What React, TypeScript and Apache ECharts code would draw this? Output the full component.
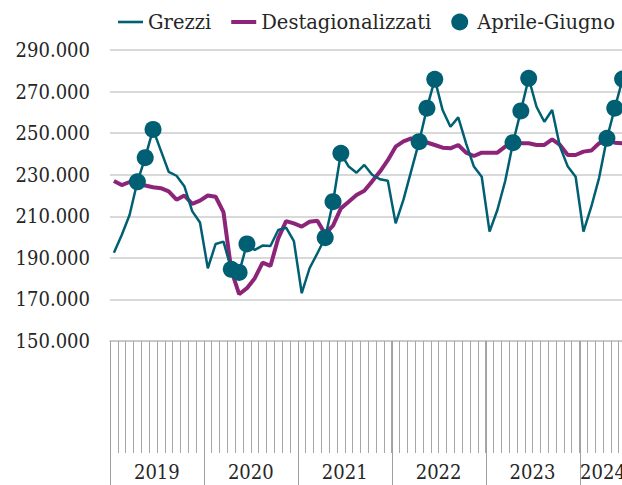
import React, { useEffect, useRef } from 'react';
import * as echarts from 'echarts';

const YEARS = ['2019', '2020', '2021', '2022', '2023', '2024'];
const MONTHS = ['gen', 'feb', 'mar', 'apr', 'mag', 'giu', 'lug', 'ago', 'set', 'ott', 'nov', 'dic'];
const SPRING_MONTHS = ['apr', 'mag', 'giu'];
const LAST_YEAR_MONTHS = 6;

// values in thousands
const grezzi = [
  192.5, 201, 210.6, 226.6, 238.2, 251.8, 241.6, 231.4, 229.5, 224.5, 212.5, 207,
  185, 196.7, 197.8, 184.5, 183, 196.7, 193.8, 195.9, 195.7, 203.4, 204.5, 198,
  173, 185, 192.2, 199.7, 217, 240.3, 233.9, 231, 234.7, 230, 227.8, 227.1,
  206.6, 218, 232, 245.9, 262, 275.9, 261.1, 253.1, 257.6, 245.1, 233.9, 229,
  202.6, 213, 227, 245.4, 260.7, 276.4, 262.7, 255.5, 261.1, 243.5, 233.9, 229,
  202.6, 214.6, 228.5, 247.5, 262, 276,
];

const destagionalizzati = [
  227, 225, 226.5, 225.5, 224.8, 224, 223.5, 222, 218, 220, 216, 217.5,
  220, 219.4, 212, 184, 172.5, 175.4, 180.2, 187.7, 186.1, 199.4, 207.7, 206.6,
  205, 207.4, 207.9, 201.5, 205.5, 213.8, 217, 220.2, 222.3, 226.8, 231.5, 237,
  243.5, 246, 247.5, 246.7, 245.5, 244.3, 243, 242.7, 244.3, 240.6, 239, 240.6,
  240.6, 240.6, 243.5, 245.1, 245.1, 245.1, 244.3, 244.3, 247, 244.3, 239.5, 239.5,
  241.1, 241.6, 245.1, 246.7, 245.4, 245.1,
];

const Y_MIN = 150;
const Y_MAX = 290;
const Y_STEP = 20;

const categories: string[] = [];
YEARS.forEach((y, yi) => {
  const n = yi === YEARS.length - 1 ? LAST_YEAR_MONTHS : 12;
  for (let m = 0; m < n; m++) categories.push(`${MONTHS[m]} ${y}`);
});

const yearStarts: number[] = [];
categories.forEach((c, i) => {
  if (c.startsWith('gen ')) yearStarts.push(i);
});

// label index for each year: middle of the year's months
const yearLabelIdx: number[] = YEARS.map((y, yi) => {
  const start = yearStarts[yi];
  const n = yi === YEARS.length - 1 ? LAST_YEAR_MONTHS : 12;
  return start + n / 2;
});

const springPoints = categories
  .map((c, i) => [i, grezzi[i], c] as [number, number, string])
  .filter((p) => SPRING_MONTHS.includes(p[2].split(' ')[0]))
  .map((p) => [p[0], p[1]]);

const TEAL = '#005F73';
const PURPLE = '#8C2479';
const TEXT = '#262626';
const AXIS_FONT = '"DejaVu Serif Condensed", "DejaVu Serif", serif';
const LEGEND_FONT = '"DejaVu Serif", serif';

export default function App() {
  const ref = useRef<HTMLDivElement>(null);
  useEffect(() => {
    const chart = echarts.init(ref.current!, null, { renderer: 'svg' });
    chart.setOption({
      animation: false,
      backgroundColor: '#ffffff',
      legend: {
        left: 118,
        top: 12,
        padding: 0,
        itemWidth: 25,
        itemHeight: 17,
        itemGap: 20,
        data: [
          { name: 'Grezzi', icon: 'path://M0,0H25V2.6H0Z' },
          { name: 'Destagionalizzati', icon: 'path://M0,0H25V4H0Z' },
          { name: 'Aprile-Giugno', icon: 'circle' },
        ],
        textStyle: { fontFamily: LEGEND_FONT, fontSize: 19.5, color: TEXT },
      },
      grid: { left: 110, right: 13.5, top: 50, bottom: 144, containLabel: false },
      xAxis: {
        type: 'category',
        data: categories,
        boundaryGap: true,
        axisLine: { show: true, lineStyle: { color: '#c4c4c4', width: 1.5 } },
        axisTick: { show: true, interval: 0, length: 112, lineStyle: { color: '#a6a6a6', width: 1 } },
        axisLabel: {
          interval: (i: number) => yearLabelIdx.includes(i),
          formatter: (v: string) => v.split(' ')[1],
          margin: 123,
          lineHeight: 16,
          padding: [0, 8, 0, 0],
          fontFamily: AXIS_FONT,
          fontSize: 20,
          color: TEXT,
        },
        splitLine: { show: false },
      },
      yAxis: {
        type: 'value',
        min: Y_MIN,
        max: Y_MAX,
        interval: Y_STEP,
        axisLine: { show: false },
        axisTick: { show: false },
        axisLabel: {
          formatter: (v: number) => `${v}.000`,
          margin: 20,
          fontFamily: AXIS_FONT,
          fontSize: 20,
          color: TEXT,
        },
        splitLine: { lineStyle: { color: '#cccccc', width: 1.5 } },
      },
      series: [
        {
          name: 'Grezzi',
          type: 'line',
          data: grezzi,
          symbol: 'none',
          lineStyle: { color: TEAL, width: 2.5 },
          itemStyle: { color: TEAL },
          z: 3,
        },
        {
          name: 'Destagionalizzati',
          type: 'line',
          data: destagionalizzati,
          symbol: 'none',
          lineStyle: { color: PURPLE, width: 4 },
          itemStyle: { color: PURPLE },
          z: 2,
        },
        {
          name: 'Aprile-Giugno',
          type: 'scatter',
          data: springPoints,
          symbol: 'circle',
          symbolSize: 17,
          itemStyle: { color: TEAL, opacity: 1 },
          z: 5,
        },
        {
          name: 'separatori',
          type: 'custom',
          data: yearStarts.map((i) => [i, Y_MIN]),
          encode: { x: 0, y: 1 },
          clip: false,
          silent: true,
          renderItem: (params: any, api: any) => {
            const p = api.coord([api.value(0), api.value(1)]);
            const w = api.size([1, 0])[0];
            const x = Math.round(p[0] - w / 2) + 0.5;
            return {
              type: 'line',
              shape: { x1: x, y1: p[1], x2: x, y2: p[1] + 150 },
              style: { stroke: '#a0a0a0', lineWidth: 1 },
            };
          },
          z: 1,
        },
      ],
    });
    return () => chart.dispose();
  }, []);
  return (
    <div
      style={{
        position: 'fixed',
        left: 0,
        top: 0,
        width: 622,
        height: 485,
        overflow: 'hidden',
        background: '#ffffff',
      }}
    >
      <div ref={ref} style={{ width: 640, height: 485 }} />
    </div>
  );
}
